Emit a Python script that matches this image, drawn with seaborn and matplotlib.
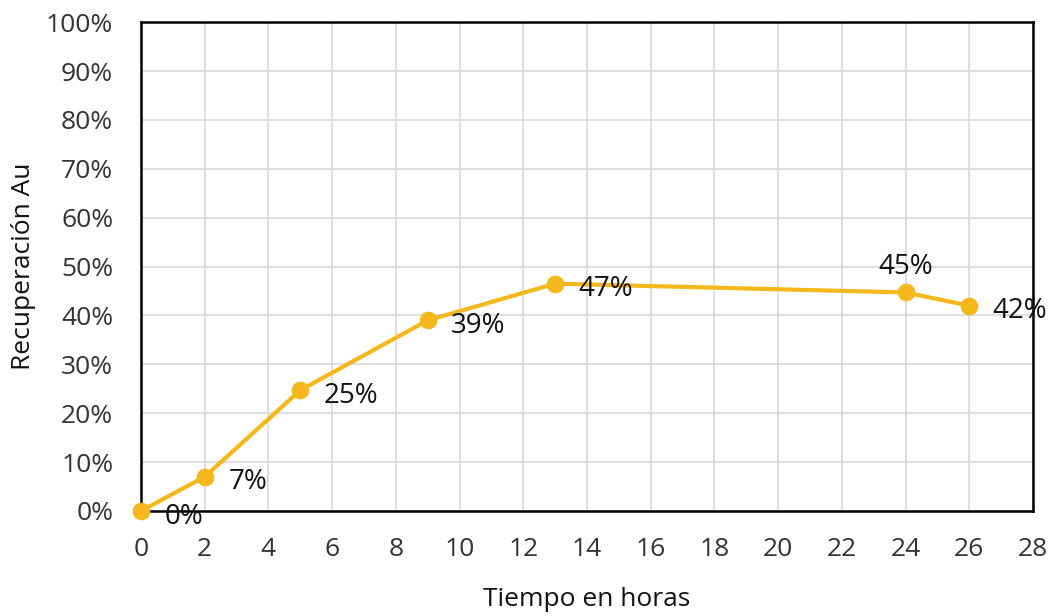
import matplotlib
matplotlib.use("Agg")
import matplotlib.pyplot as plt
import seaborn as sns
import pandas as pd
from matplotlib.ticker import PercentFormatter, MultipleLocator

horas = [0, 2, 5, 9, 13, 24, 26]
recuperacion = [0.0, 0.07, 0.247, 0.39, 0.465, 0.447, 0.42]
etiquetas = ["0%", "7%", "25%", "39%", "47%", "45%", "42%"]

sns.set_theme(style="white")
plt.rcParams["font.family"] = ["Open Sans", "DejaVu Sans"]

df = pd.DataFrame({"Tiempo en horas": horas, "Recuperación Au": recuperacion})

fig = plt.figure(figsize=(10.6, 6.16), dpi=100)
ax = fig.add_axes([0.133, 0.1705, 0.8415, 0.7935])
color = "#F4B81C"
sns.lineplot(data=df, x="Tiempo en horas", y="Recuperación Au", ax=ax,
             color=color, linewidth=3, marker="o", markersize=12,
             markeredgecolor=color, zorder=3, clip_on=False)

ax.set_xlim(0, 28)
ax.set_ylim(0, 1)
ax.xaxis.set_major_locator(MultipleLocator(2))
ax.yaxis.set_major_locator(MultipleLocator(0.1))
ax.yaxis.set_major_formatter(PercentFormatter(1.0, decimals=0))
ax.grid(True, color="#D9D9D9", linewidth=1.2)
ax.set_axisbelow(True)
for s in ax.spines.values():
    s.set_color("black")
    s.set_linewidth(1.8)
ax.tick_params(axis="y", labelsize=19, colors="#333333", length=0, pad=20)
ax.tick_params(axis="x", labelsize=19, colors="#333333", length=0, pad=19)
ax.set_xlabel("Tiempo en horas", fontsize=19, labelpad=18, color="#111111")
ax.set_ylabel("Recuperación Au", fontsize=19, labelpad=7, color="#111111")

for x, y, t in zip(horas, recuperacion, etiquetas):
    if t == "45%":
        ax.annotate(t, (x, y), xytext=(0, 18), textcoords="offset points",
                    ha="center", va="center", fontsize=20, color="#111111")
    else:
        ax.annotate(t, (x, y), xytext=(17, -4), textcoords="offset points",
                    ha="left", va="center", fontsize=20, color="#111111")

fig.savefig("out.png", dpi=100)
